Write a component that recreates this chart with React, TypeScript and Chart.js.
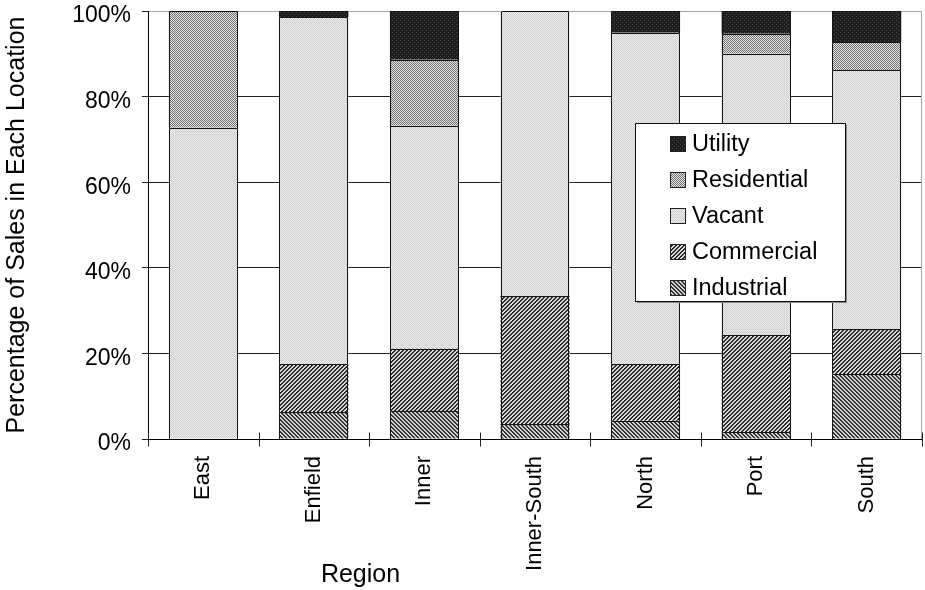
import React, { useEffect, useRef } from "react";
import { Chart, registerables } from "chart.js";

Chart.register(...registerables);

// Share of sales (%) by land use in each region
const regions = ["East", "Enfield", "Inner", "Inner-South", "North", "Port", "South"];
const industrial = [0, 6.2, 6.5, 3.5, 4.3, 1.6, 15.1];
const commercial = [0, 11.3, 14.6, 29.9, 13.2, 22.6, 10.5];
const vacant = [72.7, 81.0, 52.1, 66.6, 77.4, 65.8, 60.6];
const residential = [27.3, 0, 15.4, 0, 0, 4.7, 6.5];
const utility = [0, 1.5, 11.4, 0, 5.1, 5.3, 7.3];
const yTickStep = 20;

const FONT = "'Liberation Sans', Arial, Helvetica, sans-serif";

type Painter = (x: number, y: number) => string;

function makePattern(ctx: CanvasRenderingContext2D, size: number, paint: Painter): CanvasPattern {
  const tile = document.createElement("canvas");
  tile.width = size;
  tile.height = size;
  const g = tile.getContext("2d")!;
  for (let y = 0; y < size; y++) {
    for (let x = 0; x < size; x++) {
      g.fillStyle = paint(x, y);
      g.fillRect(x, y, 1, 1);
    }
  }
  return ctx.createPattern(tile, "repeat")!;
}

export default function App() {
  const canvasRef = useRef<HTMLCanvasElement | null>(null);

  useEffect(() => {
    const canvas = canvasRef.current;
    if (!canvas) return;
    const ctx = canvas.getContext("2d")!;

    const fills = {
      utility: makePattern(ctx, 4, (x, y) => ((x + y) % 4 === 0 && x % 2 === 0 ? "#4a4a4a" : "#1e1e1e")),
      residential: makePattern(ctx, 2, (x, y) => ((x + y) % 2 === 0 ? "#707070" : "#e6e6e6")),
      vacant: makePattern(ctx, 2, (x, y) => ((x + y) % 2 === 0 ? "#cfcfcf" : "#ececec")),
      commercial: makePattern(ctx, 4, (x, y) => ((x + y) % 4 < 2 ? "#2a2a2a" : "#dcdcdc")),
      industrial: makePattern(ctx, 4, (x, y) => (((x - y) % 4 + 4) % 4 < 2 ? "#333333" : "#d4d4d4")),
    };

    const edge = "#141414";

    // crisp outlines around every stacked segment (top + sides)
    const outlines = {
      id: "outlines",
      afterDatasetsDraw(chart: any) {
        const c = chart.ctx;
        c.save();
        c.strokeStyle = edge;
        c.lineWidth = 1;
        chart.data.datasets.forEach((_: any, di: number) => {
          const meta = chart.getDatasetMeta(di);
          meta.data.forEach((bar: any) => {
            const { x, y, base, width } = bar.getProps(["x", "y", "base", "width"], true);
            if (Math.abs(base - y) < 0.5) return;
            const l = Math.round(x - width / 2) + 0.5;
            const r = Math.round(x + width / 2) - 0.5;
            const t = Math.round(y) + 0.5;
            const b = Math.round(base);
            c.beginPath();
            c.moveTo(l, b);
            c.lineTo(l, t);
            c.lineTo(r, t);
            c.lineTo(r, b);
            c.stroke();
          });
        });
        c.restore();
      },
    };

    const decor = {
      id: "decor",
      afterDraw(chart: any) {
        const { ctx: c, chartArea, scales } = chart;
        const { top, bottom, right } = chartArea;
        const x = scales.x;
        c.save();

        // right edge of the plot frame
        c.strokeStyle = "#a8a8a8";
        c.lineWidth = 1;
        const rx = Math.round(right) - 0.5;
        c.beginPath();
        c.moveTo(rx, top);
        c.lineTo(rx, bottom);
        c.stroke();

        // category boundary tick marks crossing the x axis
        c.strokeStyle = "#222";
        const half = (x.getPixelForValue(1) - x.getPixelForValue(0)) / 2;
        const yb = Math.round(bottom) + 0.5;
        for (let i = 0; i <= regions.length; i++) {
          const px = Math.round(x.getPixelForValue(i) - half) + 0.5;
          c.beginPath();
          c.moveTo(px, yb - 7);
          c.lineTo(px, yb + 7);
          c.stroke();
        }

        // x axis title
        c.fillStyle = "#000";
        c.font = `25px ${FONT}`;
        c.textAlign = "center";
        c.textBaseline = "alphabetic";
        c.fillText("Region", 360.5, 581.5);

        // legend box
        const bx = 635.5, by = 123.5, bw = 210, bh = 178;
        c.fillStyle = "#8a8a8a";
        c.fillRect(bx + 1.5, by + 1.5, bw, bh);
        c.fillStyle = "#fff";
        c.fillRect(bx, by, bw, bh);
        c.strokeStyle = "#111";
        c.strokeRect(bx, by, bw, bh);

        const items = [...chart.data.datasets].reverse();
        c.font = `23.5px ${FONT}`;
        c.textAlign = "left";
        c.textBaseline = "middle";
        items.forEach((ds: any, i: number) => {
          const cy = 144 + i * 36;
          c.fillStyle = ds.backgroundColor;
          c.fillRect(671, cy - 7, 14, 14);
          c.strokeStyle = "#222";
          c.strokeRect(670.5, cy - 7.5, 15, 15);
          c.fillStyle = "#000";
          c.fillText(ds.label, 692, cy + 1);
        });

        c.restore();
      },
    };

    const common = { borderWidth: 0, inflateAmount: 0 };

    const chart = new Chart(canvas, {
      type: "bar",
      data: {
        labels: regions,
        datasets: [
          { label: "Industrial", data: industrial, backgroundColor: fills.industrial, ...common },
          { label: "Commercial", data: commercial, backgroundColor: fills.commercial, ...common },
          { label: "Vacant", data: vacant, backgroundColor: fills.vacant, ...common },
          { label: "Residential", data: residential, backgroundColor: fills.residential, ...common },
          { label: "Utility", data: utility, backgroundColor: fills.utility, ...common },
        ],
      },
      options: {
        responsive: false,
        animation: false,
        devicePixelRatio: 1,
        layout: { padding: { top: 11, right: 3, left: 0, bottom: 0 } },
        datasets: { bar: { categoryPercentage: 1, barPercentage: 0.624 } },
        plugins: {
          legend: { display: false },
          tooltip: { enabled: false },
        },
        scales: {
          x: {
            stacked: true,
            grid: { display: false, drawTicks: false, tickLength: 0 },
            border: { display: true, color: "#000", width: 1 },
            ticks: {
              color: "#000",
              font: { family: FONT, size: 22 },
              minRotation: 90,
              maxRotation: 90,
              autoSkip: false,
              padding: 17,
            },
            afterFit: (s: any) => {
              s.height = 151;
              s.paddingLeft = 0;
              s.paddingRight = 0;
            },
          },
          y: {
            stacked: true,
            min: 0,
            max: 100,
            grid: {
              color: (c: any) => (c.tick && c.tick.value === 100 ? "#a8a8a8" : "#222"),
              tickColor: "#222",
              lineWidth: 1,
              drawTicks: true,
              tickLength: 6,
            },
            border: { display: true, color: "#000", width: 1 },
            ticks: {
              stepSize: yTickStep,
              color: "#000",
              font: { family: FONT, size: 23 },
              padding: 11,
              labelOffset: 5,
              callback: (v: any) => `${v}%`,
            },
            title: {
              display: true,
              text: "Percentage of Sales in Each Location",
              color: "#000",
              font: { family: FONT, size: 25 },
              padding: { top: 2, bottom: 0 },
            },
            afterFit: (s: any) => {
              s.width = 148;
              s.paddingTop = 0;
              s.paddingBottom = 0;
            },
          },
        },
      },
      plugins: [outlines, decor],
    });

    return () => chart.destroy();
  }, []);

  return (
    <div style={{ position: "fixed", left: 0, top: 0, width: 925, height: 590, background: "#fff" }}>
      <canvas ref={canvasRef} width={925} height={590} style={{ display: "block" }} />
    </div>
  );
}
